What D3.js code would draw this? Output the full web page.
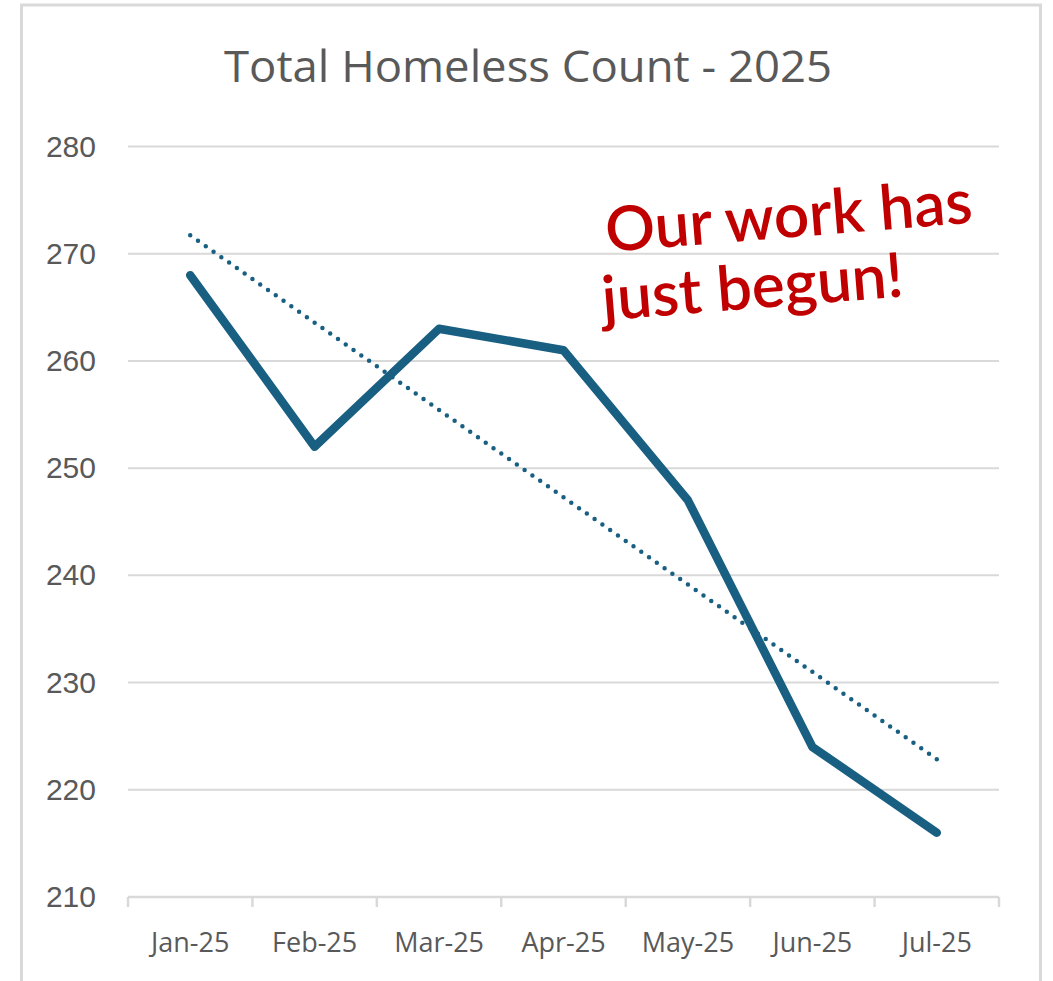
<!DOCTYPE html>
<html>
<head>
<meta charset="utf-8">
<script src="https://cdn.jsdelivr.net/npm/d3@7"></script>
<style>
  body { margin: 0; background: #fff; }
  svg { display: block; }
</style>
</head>
<body>
<svg width="1053" height="981"></svg>
<script>
// chart data
var months = ["Jan-25", "Feb-25", "Mar-25", "Apr-25", "May-25", "Jun-25", "Jul-25"];
var counts = [268, 252, 263, 261, 247, 224, 216];
var yTicks = [210, 220, 230, 240, 250, 260, 270, 280];
var title = "Total Homeless Count - 2025";
var note = ["Our work has", "just begun!"];

var svg = d3.select("svg"),
    margin = {top: 146.5, right: 54, bottom: 84, left: 128},
    width = +svg.attr("width") - margin.left - margin.right,
    height = +svg.attr("height") - margin.top - margin.bottom;

var lineColor = "#185f82",
    gridColor = "#d9d9d9",
    textColor = "#595959";

// outer chart border (bottom edge is off the picture)
svg.append("rect")
    .attr("x", 21.5)
    .attr("y", 5)
    .attr("width", 1019)
    .attr("height", 1000)
    .attr("fill", "none")
    .attr("stroke", gridColor)
    .attr("stroke-width", 3);

svg.append("text")
    .attr("x", 528)
    .attr("y", 82)
    .attr("text-anchor", "middle")
    .attr("font-family", "'Open Sans', sans-serif")
    .attr("font-size", 44)
    .attr("fill", textColor)
    .attr("textLength", 608)
    .attr("lengthAdjust", "spacingAndGlyphs")
    .text(title);

var g = svg.append("g")
    .attr("transform", "translate(" + margin.left + "," + margin.top + ")");

var x = d3.scaleBand()
    .domain(months)
    .range([0, width]);

var y = d3.scaleLinear()
    .domain([d3.min(yTicks), d3.max(yTicks)])
    .range([height, 0]);

// gridlines
g.append("g")
  .selectAll("line")
  .data(yTicks.slice(1))
  .enter().append("line")
    .attr("x1", 0)
    .attr("x2", width)
    .attr("y1", function(d) { return y(d); })
    .attr("y2", function(d) { return y(d); })
    .attr("stroke", gridColor)
    .attr("stroke-width", 2);

// y labels
g.append("g")
    .call(d3.axisLeft(y).tickValues(yTicks).tickSize(0).tickPadding(32))
    .call(function(a) { a.select(".domain").remove(); })
    .selectAll("text")
    .attr("font-family", "'Liberation Sans', Arial, sans-serif")
    .attr("font-size", 30)
    .attr("fill", textColor);

// x axis with ticks at band edges
var xAxis = g.append("g")
    .attr("transform", "translate(0," + height + ")");

xAxis.append("line")
    .attr("x1", 0)
    .attr("x2", width)
    .attr("stroke", gridColor)
    .attr("stroke-width", 2.5);

xAxis.selectAll(".edge")
  .data(months.concat(["end"]))
  .enter().append("line")
    .attr("class", "edge")
    .attr("x1", function(d, i) { return i < months.length ? x(d) : width; })
    .attr("x2", function(d, i) { return i < months.length ? x(d) : width; })
    .attr("y1", 0)
    .attr("y2", 10)
    .attr("stroke", gridColor)
    .attr("stroke-width", 2.5);

xAxis.selectAll(".lbl")
  .data(months)
  .enter().append("text")
    .attr("class", "lbl")
    .attr("x", function(d) { return x(d) + x.bandwidth() / 2; })
    .attr("y", 55)
    .attr("text-anchor", "middle")
    .attr("font-family", "'Open Sans', sans-serif")
    .attr("font-size", 27)
    .attr("fill", textColor)
    .text(function(d) { return d; });

// linear trendline, least squares like the spreadsheet does
var idx = d3.range(counts.length),
    mx = d3.mean(idx),
    my = d3.mean(counts),
    slope = d3.sum(idx, function(i) { return (i - mx) * (counts[i] - my); }) /
            d3.sum(idx, function(i) { return (i - mx) * (i - mx); }),
    icpt = my - slope * mx;

var cx = function(i) { return x(months[i]) + x.bandwidth() / 2; };

g.append("line")
    .attr("x1", cx(0))
    .attr("y1", y(icpt))
    .attr("x2", cx(counts.length - 1))
    .attr("y2", y(icpt + slope * (counts.length - 1)))
    .attr("stroke", lineColor)
    .attr("stroke-width", 4.5)
    .attr("stroke-linecap", "round")
    .attr("stroke-dasharray", "0,9.5");

var line = d3.line()
    .x(function(d, i) { return cx(i); })
    .y(function(d) { return y(d); });

g.append("path")
    .datum(counts)
    .attr("d", line)
    .attr("fill", "none")
    .attr("stroke", lineColor)
    .attr("stroke-width", 8.5)
    .attr("stroke-linejoin", "round")
    .attr("stroke-linecap", "round");

// red note
var ann = svg.append("g")
    .attr("transform", "translate(607,252) rotate(-4.6)")
    .attr("font-family", "Lato, sans-serif")
    .attr("font-weight", 600)
    .attr("font-size", 62)
    .attr("fill", "#c00000");

ann.selectAll("text")
  .data(note)
  .enter().append("text")
    .attr("x", function(d, i) { return i * -9; })
    .attr("y", function(d, i) { return i * 68; })
    .text(function(d) { return d; });
</script>
</body>
</html>
